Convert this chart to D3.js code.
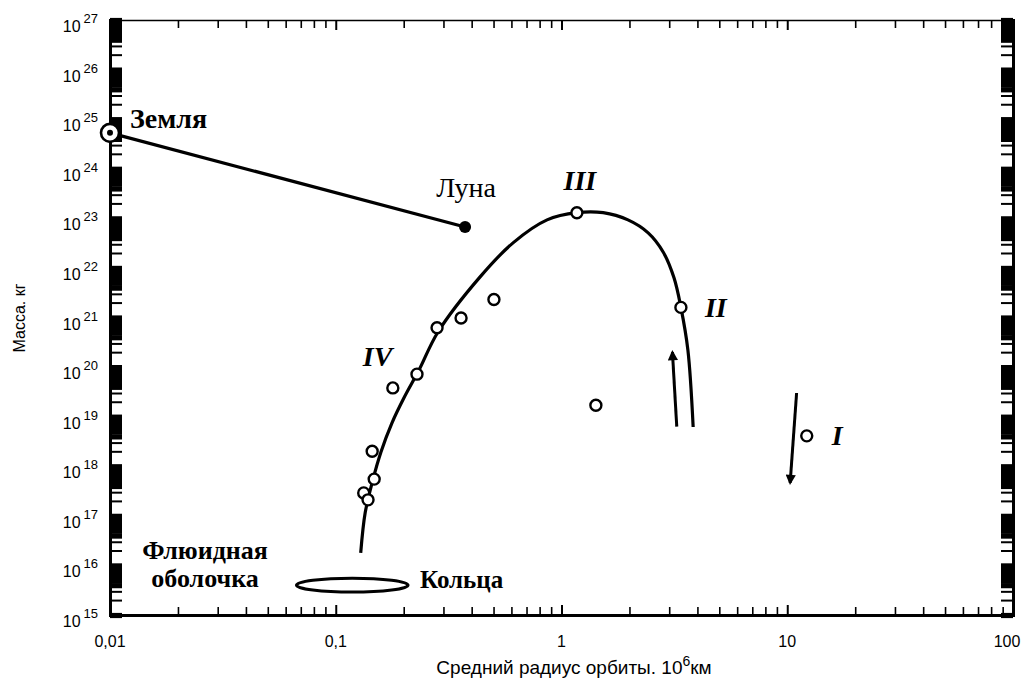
<!DOCTYPE html>
<html>
<head>
<meta charset="utf-8">
<script src="https://cdn.jsdelivr.net/npm/d3@7"></script>
<style>
  body { margin: 0; background: #fff; }
</style>
</head>
<body>
<script>
// --- data (orbit radius in 10^6 km, mass in kg) ---
const xTickValues = [0.01, 0.1, 1, 10, 100];
const xTickLabels = ["0,01", "0,1", "1", "10", "100"];
const yExponents = [15, 16, 17, 18, 19, 20, 21, 22, 23, 24, 25, 26, 27];

const earth = { r: 0.01, m: 5.3e24 };
const moon = { r: 0.374, m: 6.7e22 };

// satellites (open circles)
const satR = [1.17, 3.38, 0.502, 0.359, 0.281, 0.229, 0.179, 0.145, 0.148, 0.133, 0.139, 1.42, 12.2];
const satM = [1.3e23, 1.6e21, 2.3e21, 9.8e20, 6.2e20, 7.2e19, 3.8e19, 2.0e18, 5.5e17, 2.9e17, 2.1e17, 1.7e19, 4.1e18];

// envelope curve
const curveR = [0.129, 0.135, 0.146, 0.1586, 0.1775, 0.2006, 0.2338, 0.2837, 0.436, 0.610, 0.863, 1.17, 1.53, 1.97, 2.42, 2.82, 3.15, 3.38, 3.63, 3.83];
const curveM = [1.8e16, 1.15e17, 5.3e17, 1.94e18, 7.5e18, 2.4e19, 8.7e19, 5.1e20, 6.6e21, 3.2e22, 9.3e22, 1.3e23, 1.3e23, 9.3e22, 5.1e22, 2.1e22, 6.3e21, 1.6e21, 2.2e20, 6.2e18];

// arrows [from, to]
const arrowUpR = [3.24, 3.10], arrowUpM = [6.3e18, 2.0e20];
const arrowDownR = [11.0, 10.3], arrowDownM = [3.0e19, 4.6e17];

// rings ellipse extent
const ringR = [0.067, 0.209], ringM = [2.9e15, 5.5e15];

const SANS = "'Liberation Sans', Arial, Helvetica, sans-serif";
const SERIF = "'Liberation Serif', 'Times New Roman', 'DejaVu Serif', serif";

const W = 1025, H = 680;
const margin = { top: 20, right: 12, bottom: 65, left: 110 };

const svg = d3.select("body").append("svg")
    .attr("width", W)
    .attr("height", H);

const x = d3.scaleLog().domain([0.01, 100]).range([margin.left, W - margin.right]);
const y = d3.scaleLog().domain([1e15, 1e27]).range([H - margin.bottom, margin.top]);

// all log ticks 1..9 per decade
const yTicks = [];
yExponents.forEach(e => {
    for (let k = 1; k <= 9; k++) {
        if (e === 27 && k > 1) break;
        yTicks.push(k * Math.pow(10, e));
    }
});
const xTicks = [];
[-2, -1, 0, 1, 2].forEach(e => {
    for (let k = 1; k <= 9; k++) {
        if (e === 2 && k > 1) break;
        xTicks.push(k * Math.pow(10, e));
    }
});
const mantissa = v => Math.round(v / Math.pow(10, Math.floor(Math.log10(v) + 1e-9)));
const isMajor = v => mantissa(v) === 1;

// --- axes ---
const gLeft = svg.append("g")
    .attr("transform", `translate(${margin.left},0)`)
    .call(d3.axisLeft(y).tickValues(yTicks).tickSize(-12).tickFormat(""));
const gRight = svg.append("g")
    .attr("transform", `translate(${W - margin.right},0)`)
    .call(d3.axisRight(y).tickValues(yTicks).tickSize(-12).tickFormat(""));
const gBottom = svg.append("g")
    .attr("transform", `translate(0,${H - margin.bottom})`)
    .call(d3.axisBottom(x).tickValues(xTicks).tickSize(-8).tickFormat(""));
const gTop = svg.append("g")
    .attr("transform", `translate(0,${margin.top})`)
    .call(d3.axisTop(x).tickValues(xTicks).tickSize(-8).tickFormat(""));

// dense log ticks merge into black blocks, as in the scanned original
[gLeft, gRight].forEach(g => {
    g.selectAll(".tick line").attr("stroke-width", d => {
        const k = mantissa(d);
        return (k === 2 || k === 3) ? 2 : 5.2;
    });
    g.select(".domain").attr("stroke-width", 3);
});
[gBottom, gTop].forEach(g => {
    g.selectAll(".tick line")
        .attr("stroke-width", d => isMajor(d) ? 2 : 1.6)
        .attr("y2", d => (g === gBottom ? -1 : 1) * (isMajor(d) ? 10 : 8));
});
gBottom.select(".domain").attr("stroke-width", 3);
gTop.select(".domain").attr("stroke-width", 1.5);
svg.selectAll(".domain").attr("stroke", "#000");
svg.selectAll(".tick line").attr("stroke", "#000");

// x tick labels
svg.append("g").selectAll("text")
    .data(xTickValues)
    .join("text")
    .attr("font-family", SANS)
    .attr("x", d => x(d))
    .attr("dx", (d, i) => i === xTickValues.length - 1 ? -6 : 0)
    .attr("y", H - margin.bottom + 32)
    .attr("text-anchor", "middle")
    .attr("font-size", 16)
    .text((d, i) => xTickLabels[i]);

// y tick labels 10^n
const yLab = svg.append("g").selectAll("text")
    .data(yExponents)
    .join("text")
    .attr("font-family", SANS)
    .attr("x", 98)
    .attr("y", d => y(Math.pow(10, d)) + 12)
    .attr("text-anchor", "end")
    .attr("font-size", 16);
yLab.append("tspan").text("10");
yLab.append("tspan").attr("dx", 3).attr("dy", -9).attr("font-size", 13).text(d => d);

// axis titles
svg.append("text")
    .attr("font-family", SANS)
    .attr("transform", `translate(25,318) rotate(-90)`)
    .attr("text-anchor", "middle")
    .attr("font-size", 16)
    .text("Масса. кг");

const xTitle = svg.append("text")
    .attr("font-family", SANS)
    .attr("x", 574)
    .attr("y", 674)
    .attr("text-anchor", "middle")
    .attr("font-size", 19);
xTitle.append("tspan").text("Средний радиус орбиты.  10");
xTitle.append("tspan").attr("dy", -8).attr("font-size", 14).text("6");
xTitle.append("tspan").attr("dy", 8).text("км");

// --- marks ---
svg.append("line")
    .attr("x1", x(earth.r)).attr("y1", y(earth.m))
    .attr("x2", x(moon.r)).attr("y2", y(moon.m))
    .attr("stroke", "#000").attr("stroke-width", 3.2);

const curvePts = curveR.map((r, i) => [x(r), y(curveM[i])]);
svg.append("path")
    .attr("d", d3.line().curve(d3.curveCatmullRom.alpha(0.5))(curvePts))
    .attr("fill", "none")
    .attr("stroke", "#000")
    .attr("stroke-width", 3.2);

// arrows
svg.append("defs").append("marker")
    .attr("id", "arr")
    .attr("viewBox", "0 0 10 10")
    .attr("refX", 8).attr("refY", 5)
    .attr("markerWidth", 4).attr("markerHeight", 3.4)
    .attr("markerUnits", "strokeWidth")
    .attr("orient", "auto")
    .append("path")
    .attr("d", "M0,0 L10,5 L0,10 Z")
    .attr("fill", "#000");

[[arrowUpR, arrowUpM], [arrowDownR, arrowDownM]].forEach(([rs, ms]) => {
    svg.append("line")
        .attr("x1", x(rs[0])).attr("y1", y(ms[0]))
        .attr("x2", x(rs[1])).attr("y2", y(ms[1]))
        .attr("stroke", "#000")
        .attr("stroke-width", 3)
        .attr("marker-end", "url(#arr)");
});

// rings ellipse
svg.append("ellipse")
    .attr("cx", (x(ringR[0]) + x(ringR[1])) / 2)
    .attr("cy", (y(ringM[0]) + y(ringM[1])) / 2)
    .attr("rx", (x(ringR[1]) - x(ringR[0])) / 2)
    .attr("ry", (y(ringM[0]) - y(ringM[1])) / 2)
    .attr("fill", "none")
    .attr("stroke", "#000")
    .attr("stroke-width", 3);

// satellites
svg.append("g").selectAll("circle")
    .data(satR)
    .join("circle")
    .attr("cx", d => x(d))
    .attr("cy", (d, i) => y(satM[i]))
    .attr("r", 5.5)
    .attr("fill", "#fff")
    .attr("stroke", "#000")
    .attr("stroke-width", 2.4);

// Earth and Moon
svg.append("circle")
    .attr("cx", x(earth.r)).attr("cy", y(earth.m))
    .attr("r", 9)
    .attr("fill", "#fff").attr("stroke", "#000").attr("stroke-width", 2.6);
svg.append("circle")
    .attr("cx", x(earth.r)).attr("cy", y(earth.m))
    .attr("r", 3).attr("fill", "#000");
svg.append("circle")
    .attr("cx", x(moon.r)).attr("cy", y(moon.m))
    .attr("r", 6).attr("fill", "#000");

// --- annotations ---
function label(px, py, txt, opts) {
    svg.append("text")
        .attr("font-family", SERIF)
        .attr("x", px).attr("y", py)
        .attr("text-anchor", opts.anchor || "start")
        .attr("font-size", opts.size)
        .attr("font-weight", opts.weight || "normal")
        .attr("font-style", opts.style || "normal")
        .text(txt);
}
label(x(earth.r) + 20, y(earth.m) - 5, "Земля", { size: 28, weight: "bold" });
label(x(moon.r) + 1, y(moon.m) - 30, "Луна", { size: 28, anchor: "middle" });
label(x(satR[0]) + 3, y(satM[0]) - 23, "III", { size: 28, weight: "bold", style: "italic", anchor: "middle" });
label(x(satR[1]) + 24, y(satM[1]) + 10, "II", { size: 28, weight: "bold", style: "italic" });
label(x(satR[6]) - 30, y(satM[6]) - 22, "IV", { size: 28, weight: "bold", style: "italic" });
label(x(satR[12]) + 25, y(satM[12]) + 9, "I", { size: 28, weight: "bold", style: "italic" });

const ringCy = (y(ringM[0]) + y(ringM[1])) / 2;
label(205, ringCy - 26, "Флюидная", { size: 26, weight: "bold", anchor: "middle" });
label(205, ringCy + 2, "оболочка", { size: 26, weight: "bold", anchor: "middle" });
label(x(ringR[1]) + 12, ringCy + 3, "Кольца", { size: 25, weight: "bold" });
</script>
</body>
</html>
